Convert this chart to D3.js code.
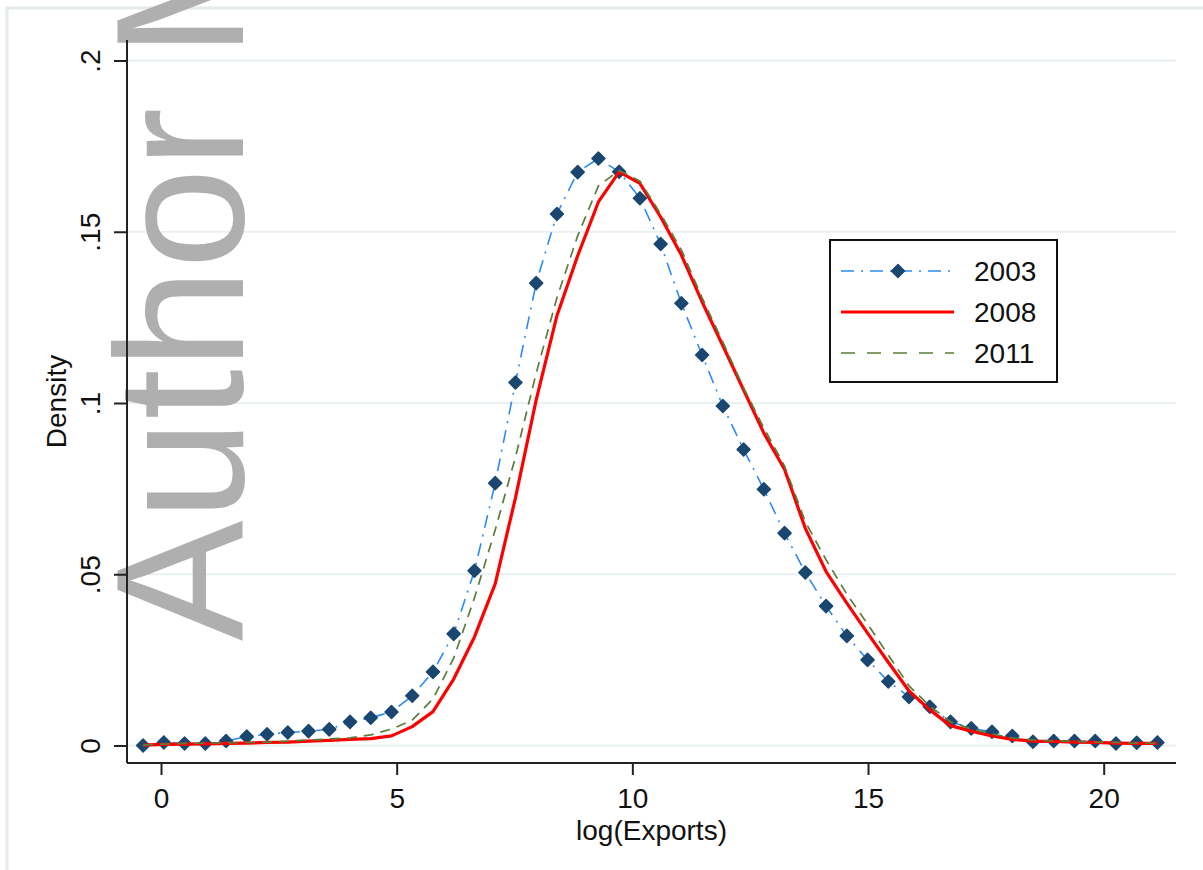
<!DOCTYPE html>
<html>
<head>
<meta charset="utf-8">
<script src="https://cdn.jsdelivr.net/npm/d3@7"></script>
<style>
  body { margin: 0; background: #ffffff; }
  text { font-family: "Liberation Sans", Arial, sans-serif; }
</style>
</head>
<body>
<svg id="density-plot"></svg>
<script>
// Evaluation points of the kernel density (log exports)
var xPoints = [-0.38, 0.06, 0.50, 0.94, 1.38, 1.82, 2.25, 2.69, 3.13, 3.57,
               4.01, 4.45, 4.89, 5.33, 5.77, 6.21, 6.65, 7.09, 7.52, 7.96,
               8.40, 8.84, 9.28, 9.72, 10.16, 10.60, 11.04, 11.48, 11.92, 12.36,
               12.79, 13.23, 13.67, 14.11, 14.55, 14.99, 15.43, 15.87, 16.31, 16.75,
               17.19, 17.63, 18.06, 18.50, 18.94, 19.38, 19.82, 20.26, 20.70, 21.14];

// Density values
var density2003 = [0.0000, 0.0009, 0.0006, 0.0006, 0.0013, 0.0026, 0.0033, 0.0038, 0.0042, 0.0047,
                   0.0069, 0.0081, 0.0098, 0.0145, 0.0215, 0.0326, 0.0510, 0.0766, 0.1060, 0.1350,
                   0.1552, 0.1674, 0.1714, 0.1675, 0.1598, 0.1464, 0.1291, 0.1140, 0.0991, 0.0864,
                   0.0748, 0.0620, 0.0505, 0.0407, 0.0320, 0.0250, 0.0187, 0.0142, 0.0113, 0.0069,
                   0.0050, 0.0040, 0.0028, 0.0011, 0.0013, 0.0013, 0.0013, 0.0006, 0.0008, 0.0009];

var density2008 = [0.0001, 0.0003, 0.0004, 0.0005, 0.0006, 0.0007, 0.0009, 0.0010, 0.0013, 0.0015,
                   0.0018, 0.0020, 0.0028, 0.0055, 0.0099, 0.0194, 0.0317, 0.0472, 0.0723, 0.1009,
                   0.1255, 0.1430, 0.1587, 0.1675, 0.1641, 0.1543, 0.1432, 0.1295, 0.1167, 0.1038,
                   0.0912, 0.0806, 0.0634, 0.0508, 0.0416, 0.0328, 0.0243, 0.0159, 0.0104, 0.0058,
                   0.0042, 0.0028, 0.0018, 0.0013, 0.0012, 0.0010, 0.0009, 0.0007, 0.0006, 0.0006];

var density2011 = [0.0001, 0.0004, 0.0006, 0.0007, 0.0008, 0.0009, 0.0010, 0.0013, 0.0016, 0.0019,
                   0.0022, 0.0031, 0.0048, 0.0074, 0.0136, 0.0255, 0.0431, 0.0629, 0.0842, 0.1087,
                   0.1307, 0.1488, 0.1634, 0.1679, 0.1648, 0.1552, 0.1447, 0.1307, 0.1178, 0.1044,
                   0.0927, 0.0816, 0.0653, 0.0542, 0.0442, 0.0355, 0.0264, 0.0174, 0.0115, 0.0069,
                   0.0048, 0.0034, 0.0022, 0.0016, 0.0013, 0.0012, 0.0010, 0.0009, 0.0007, 0.0006];

var xTicks = [0, 5, 10, 15, 20];
var yTicks = [0, 0.05, 0.1, 0.15, 0.2];
var yTickLabels = ["0", ".05", ".1", ".15", ".2"];
var seriesNames = ["2003", "2008", "2011"];

// Canvas and plot region
var dims = {
    width: 1203,
    height: 870,
    plot: { left: 127, right: 1176, top: 40, bottom: 763 }
};

var svg = d3.select("#density-plot")
            .attr("width", dims.width)
            .attr("height", dims.height);

// Outer graph region frame
svg.append("rect")
   .attr("x", 7).attr("y", 8)
   .attr("width", 1300).attr("height", 1000)
   .attr("fill", "none")
   .attr("stroke", "#e3ebed")
   .attr("stroke-width", 3);

// Scales
var xScale = d3.scaleLinear().domain([0, 20]).range([161, 1103.7]);
var yScale = d3.scaleLinear().domain([0, 0.2]).range([745.5, 60.5]);

// Horizontal grid lines
svg.append("g")
   .selectAll("line")
   .data(yTicks)
   .enter()
   .append("line")
   .attr("x1", dims.plot.left)
   .attr("x2", dims.plot.right)
   .attr("y1", d => yScale(d))
   .attr("y2", d => yScale(d))
   .attr("stroke", "#e8f0f2")
   .attr("stroke-width", 2);

// Watermark
svg.append("text")
   .attr("transform", "translate(243,641) rotate(-90)")
   .attr("font-size", 181)
   .attr("fill", "#a8a8a8")
   .attr("fill-opacity", 0.92)
   .text("Author M");

// Axes
var yAxis = svg.append("g")
   .attr("transform", `translate(${dims.plot.left},0)`)
   .call(d3.axisLeft(yScale).tickValues(yTicks).tickSize(13).tickFormat((d, i) => yTickLabels[i]));
yAxis.select(".domain").remove();
yAxis.append("line")
   .attr("y1", dims.plot.top).attr("y2", dims.plot.bottom)
   .attr("stroke", "#222").attr("stroke-width", 2);
yAxis.selectAll(".tick line").attr("stroke", "#222").attr("stroke-width", 2);
yAxis.selectAll(".tick text")
   .attr("x", null).attr("dy", null)
   .attr("transform", "translate(-27,0) rotate(-90)")
   .attr("text-anchor", "middle")
   .attr("font-size", 28)
   .attr("fill", "#111");

var xAxis = svg.append("g")
   .attr("transform", `translate(0,${dims.plot.bottom})`)
   .call(d3.axisBottom(xScale).tickValues(xTicks).tickSize(12).tickFormat(d3.format("d")));
xAxis.select(".domain").remove();
xAxis.append("line")
   .attr("x1", dims.plot.left).attr("x2", dims.plot.right)
   .attr("stroke", "#222").attr("stroke-width", 2);
xAxis.selectAll(".tick line").attr("stroke", "#222").attr("stroke-width", 2);
xAxis.selectAll(".tick text")
   .attr("y", 45).attr("dy", null)
   .attr("font-size", 28)
   .attr("fill", "#111");

// Axis titles
svg.append("text")
   .attr("x", (dims.plot.left + dims.plot.right) / 2)
   .attr("y", 840)
   .attr("text-anchor", "middle")
   .attr("font-size", 28)
   .attr("fill", "#111")
   .text("log(Exports)");

svg.append("text")
   .attr("transform", `translate(66,${(dims.plot.top + dims.plot.bottom) / 2}) rotate(-90)`)
   .attr("text-anchor", "middle")
   .attr("font-size", 28)
   .attr("fill", "#111")
   .text("Density");

// Line generator
var line = d3.line()
   .x((d, i) => xScale(xPoints[i]))
   .y(d => yScale(d));

var diamond = "M0,-6.5L6.5,0L0,6.5L-6.5,0Z";

// 2003: dash-dot line with diamond markers
svg.append("path")
   .datum(density2003)
   .attr("d", line)
   .attr("fill", "none")
   .attr("stroke", "#2a8cf2")
   .attr("stroke-width", 1.6)
   .attr("stroke-dasharray", "13,7,2,7");

svg.append("g")
   .selectAll("path")
   .data(density2003)
   .enter()
   .append("path")
   .attr("d", diamond)
   .attr("transform", (d, i) => `translate(${xScale(xPoints[i])},${yScale(d)})`)
   .attr("fill", "#1a476f")
   .attr("stroke", "#1a476f")
   .attr("stroke-width", 1.5)
   .attr("stroke-linejoin", "round");

// 2008: solid red
svg.append("path")
   .datum(density2008)
   .attr("d", line)
   .attr("fill", "none")
   .attr("stroke", "#ff0000")
   .attr("stroke-width", 3.2)
   .attr("stroke-linejoin", "round");

// 2011: dashed green
svg.append("path")
   .datum(density2011)
   .attr("d", line)
   .attr("fill", "none")
   .attr("stroke", "#5a7d3a")
   .attr("stroke-width", 1.7)
   .attr("stroke-dasharray", "10,7");

// Legend
var legend = svg.append("g");
legend.append("rect")
   .attr("x", 830).attr("y", 240)
   .attr("width", 227).attr("height", 142)
   .attr("fill", "#ffffff")
   .attr("stroke", "#111")
   .attr("stroke-width", 2);

var legendY = [271, 312, 353];
var legendStyles = [
    { stroke: "#2a8cf2", width: 1.6, dash: "13,7,2,7" },
    { stroke: "#ff0000", width: 3.2, dash: null },
    { stroke: "#5a7d3a", width: 1.7, dash: "14,12" }
];

seriesNames.forEach((name, i) => {
    legend.append("line")
       .attr("x1", 841).attr("x2", 954)
       .attr("y1", legendY[i]).attr("y2", legendY[i])
       .attr("stroke", legendStyles[i].stroke)
       .attr("stroke-width", legendStyles[i].width)
       .attr("stroke-dasharray", legendStyles[i].dash);
    legend.append("text")
       .attr("x", 974)
       .attr("y", legendY[i])
       .attr("dy", "0.36em")
       .attr("font-size", 28)
       .attr("fill", "#111")
       .text(name);
});

legend.append("path")
   .attr("d", diamond)
   .attr("transform", `translate(898,${legendY[0]})`)
   .attr("fill", "#1a476f")
   .attr("stroke", "#1a476f")
   .attr("stroke-width", 1.5)
   .attr("stroke-linejoin", "round");
</script>
</body>
</html>
